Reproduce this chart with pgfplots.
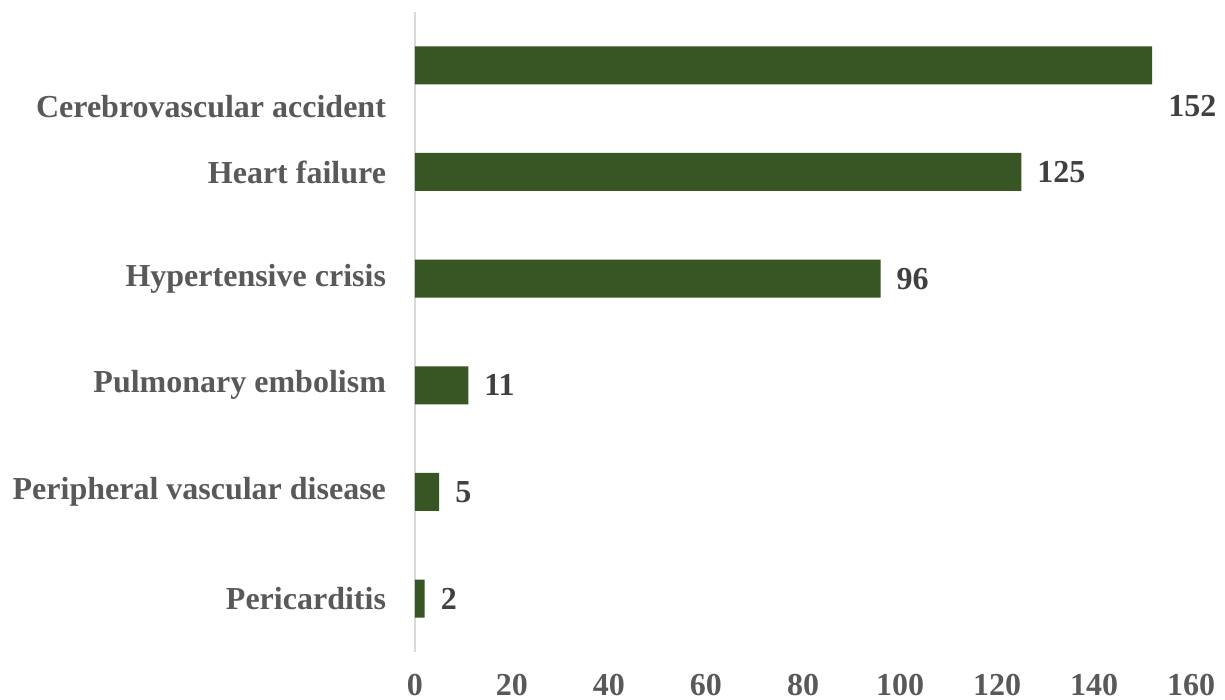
\documentclass[border=0pt]{standalone}
\usepackage{fontspec}
\setmainfont{Liberation Serif}
\usepackage{pgfplots}
\pgfplotsset{compat=1.18}
\usepackage{pgfplotstable}
\usetikzlibrary{calc}
\definecolor{bargreen}{HTML}{375623}
\definecolor{labgray}{HTML}{595959}
\definecolor{numgray}{HTML}{404040}
\definecolor{linegray}{HTML}{D9D9D9}
\pgfplotstableread{
val pos dy
2 0 0
5 1 0
11 2 0
96 3 0
125 4 0
152 5 -20.5
}\datatable
\begin{document}
\begin{tikzpicture}
\begin{axis}[name=ax, scale only axis, width=388pt, height=320pt,
  xmin=0, xmax=160, ymin=-0.5, ymax=5.5,
  xbar, bar width=19pt,
  axis x line=bottom, axis y line=left,
  x axis line style={draw=none},
  y axis line style={draw=linegray, line width=1pt, -},
  xtick={0,20,...,160},
  ytick={0,1,2,3,4,4.615},
  yticklabels={Pericarditis, Peripheral vascular disease, Pulmonary embolism, Hypertensive crisis, Heart failure, Cerebrovascular accident},
  tick style={draw=none}, major tick length=0pt,
  ticklabel style={font=\fontsize{16}{19}\selectfont\bfseries, text=labgray},
  /pgf/number format/assume math mode=true,
  yticklabel style={xshift=-11pt},
  xticklabel style={yshift=-7.5pt},
  point meta=x,
  nodes near coords,
  visualization depends on={\thisrow{dy} \as \myshift},
  nodes near coords style={font=\fontsize{16}{19}\selectfont\bfseries, text=numgray, xshift=4.5pt, yshift=\myshift pt},
]
\addplot[fill=bargreen, draw=none] table[x=val, y=pos] {\datatable};
\end{axis}
\pgfresetboundingbox
\path ($(ax.south west)+(-207.5pt,-24pt)$) rectangle ($(ax.north east)+(17pt,6pt)$);
\end{tikzpicture}
\end{document}
